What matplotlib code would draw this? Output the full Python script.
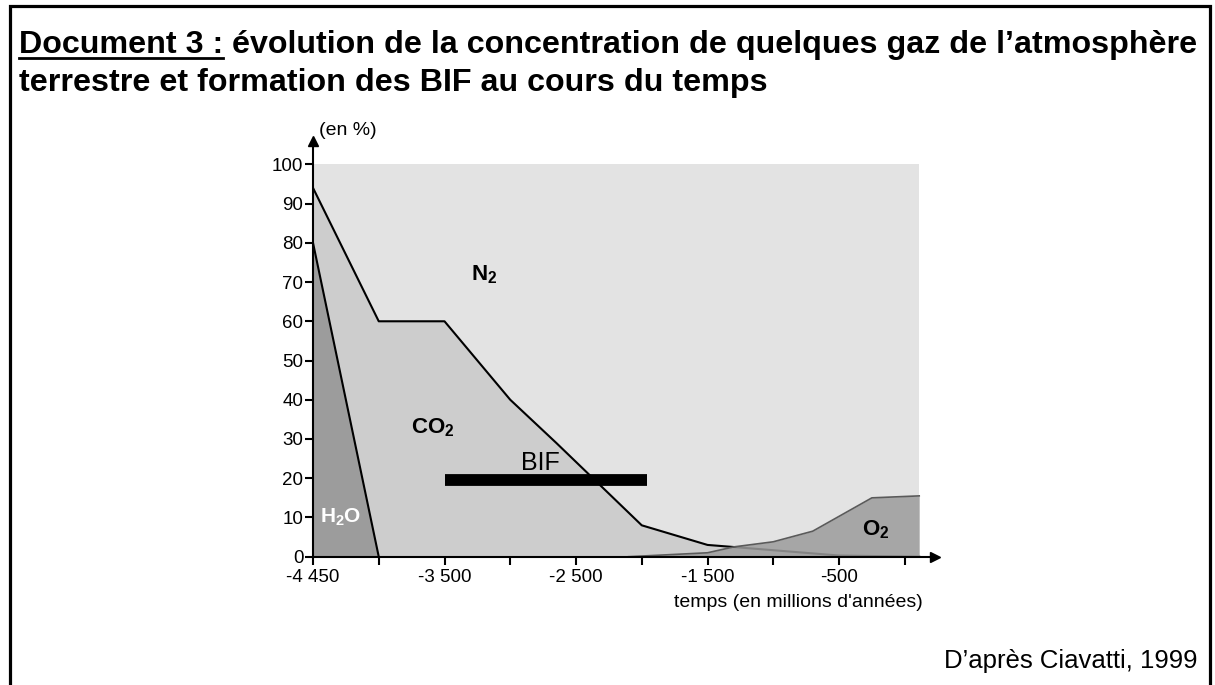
import matplotlib
matplotlib.use('Agg')
import matplotlib.pyplot as plt
from matplotlib.patches import Rectangle
from matplotlib.lines import Line2D

plt.rcParams['font.family'] = ['Liberation Sans', 'DejaVu Sans']
plt.rcParams['mathtext.fontset'] = 'custom'
plt.rcParams['mathtext.rm'] = 'Liberation Sans'
plt.rcParams['mathtext.bf'] = 'Liberation Sans:bold'
plt.rcParams['mathtext.it'] = 'Liberation Sans:italic'

annees_total = [-4500, -4000, -3500, -3000, -2650, -2000, -1500, -1350, -500, 110]
total_co2_h2o = [94, 60, 60, 40, 29, 8, 3, 2.6, 0.3, 0]
annees_h2o = [-4500, -4000]
h2o = [80, 0]
annees_o2 = [-2100, -1500, -1300, -1000, -700, -250, 110]
o2 = [0, 1, 2.5, 3.8, 6.5, 15, 15.5]
bif_debut, bif_fin, bif_niveau = -3500, -1960, 19.6

x_ticks = [-4500, -4000, -3500, -3000, -2500, -2000, -1500, -1000, -500, 0]
x_ticklabels = ['-4 450', '', '-3 500', '', '-2 500', '', '-1 500', '', '-500', '']
y_ticks = [0, 10, 20, 30, 40, 50, 60, 70, 80, 90, 100]

c_n2 = '#e3e3e3'
c_co2 = '#cdcdcd'
c_fonce = '#9c9c9c'

W, H = 1215, 685
fig = plt.figure(figsize=(W / 100, H / 100), dpi=100)

# cadre du document
fig.patches.append(Rectangle((10 / W, -0.02), 1200 / W, 1.02 - 6 / H, transform=fig.transFigure,
                             fill=False, edgecolor='black', linewidth=2.3))

# --- titre ---
renderer = fig.canvas.get_renderer()
t1 = fig.text(19 / W, 1 - 53 / H, 'Document 3 :', fontsize=23.2, fontweight='bold', va='baseline')
bb = t1.get_window_extent(renderer)
fig.lines.append(Line2D([bb.x0 / W, bb.x1 / W], [1 - 57.5 / H, 1 - 57.5 / H], transform=fig.transFigure,
                        color='black', linewidth=2))
fig.text((bb.x1 + 9) / W, 1 - 53 / H, 'évolution de la concentration de quelques gaz de l’atmosphère',
         fontsize=23.2, fontweight='bold', va='baseline')
fig.text(19 / W, 1 - 91 / H, 'terrestre et formation des BIF au cours du temps',
         fontsize=23.2, fontweight='bold', va='baseline')
fig.text(1198 / W, 1 - 668 / H, 'D’après Ciavatti, 1999', fontsize=18.5, ha='right', va='baseline')

# --- graphique ---
ax = fig.add_axes([313 / W, 1 - 556.7 / H, (935 - 313) / W, (556.7 - 140.8) / H])
ax.set_xlim(-4500, 230)
ax.set_ylim(0, 106)

ax.fill_between([-4500, 110], 0, 100, color=c_n2, linewidth=0, zorder=1)
ax.fill_between(annees_total, 0, total_co2_h2o, color=c_co2, linewidth=0, zorder=2)
ax.plot(annees_total, total_co2_h2o, color='black', linewidth=1.5, zorder=3)
ax.fill_between(annees_h2o, 0, h2o, color=c_fonce, linewidth=0, zorder=3)
ax.plot(annees_h2o, h2o, color='black', linewidth=1.5, zorder=4)
ax.fill_between(annees_o2, 0, o2, color=c_fonce, alpha=0.85, linewidth=0, zorder=4)
ax.plot(annees_o2, o2, color='#5a5a5a', linewidth=1.2, zorder=5)

# barre BIF
ax.hlines(bif_niveau, bif_debut, bif_fin, color='black', linewidth=8.5, zorder=6)
ax.text(-2773, 24, 'BIF', fontsize=18, ha='center', va='center', zorder=7)

# noms des gaz
ax.text(-3200, 72, r'$\mathbf{N_2}$', fontsize=16, ha='center', va='center', zorder=7)
ax.text(-3590, 33, r'$\mathbf{CO_2}$', fontsize=16, ha='center', va='center', zorder=7)
ax.text(-4286, 10, r'$\mathbf{H_2O}$', fontsize=15, ha='center', va='center', color='white', zorder=7)
ax.text(-222, 6.8, r'$\mathbf{O_2}$', fontsize=16, ha='center', va='center', zorder=7)

# axes
for s in ['top', 'right']:
    ax.spines[s].set_visible(False)
for s in ['left', 'bottom']:
    ax.spines[s].set_linewidth(1.5)
    ax.spines[s].set_zorder(8)
ax.set_facecolor('none')
ax.plot(1, 0, '>k', ms=7, transform=ax.get_yaxis_transform(), clip_on=False, zorder=9)
ax.plot(-4500, 1, '^k', ms=7, transform=ax.get_xaxis_transform(), clip_on=False, zorder=9)

ax.set_xticks(x_ticks)
ax.set_xticklabels(x_ticklabels)
ax.set_yticks(y_ticks)
ax.tick_params(axis='both', labelsize=13.5, length=6, width=1.5, direction='out')
ax.tick_params(axis='x', pad=3)
ax.tick_params(axis='y', pad=1)

ax.text(-4454, 108.5, '(en %)', fontsize=14, ha='left', va='center', clip_on=False)
ax.text(-810, -11.8, 'temps (en millions d\'années)', fontsize=14, ha='center', va='center', clip_on=False)

fig.savefig('out.png', dpi=100)
